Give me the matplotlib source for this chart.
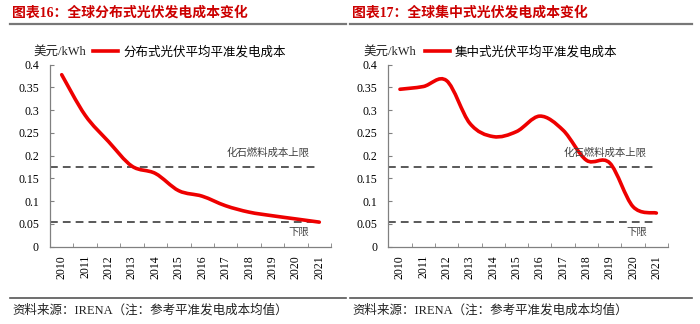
import matplotlib
matplotlib.use("Agg")
import matplotlib.pyplot as plt
from matplotlib.path import Path
from matplotlib.patches import PathPatch
from matplotlib.lines import Line2D
import numpy as np

plt.rcParams['font.family'] = ['Liberation Serif', 'Noto Sans CJK SC']

years = ['2010', '2011', '2012', '2013', '2014', '2015', '2016', '2017', '2018', '2019', '2020', '2021']
dist_cost = [0.378, 0.289, 0.231, 0.177, 0.161, 0.123, 0.111, 0.090, 0.076, 0.068, 0.061, 0.054]
util_cost = [0.346, 0.352, 0.365, 0.271, 0.242, 0.253, 0.287, 0.256, 0.190, 0.184, 0.088, 0.074]
fossil_upper = 0.175
fossil_lower = 0.055

titles = ['图表16：全球分布式光伏发电成本变化', '图表17：全球集中式光伏发电成本变化']
series_names = ['分布式光伏平均平准发电成本', '集中式光伏平均平准发电成本']
unit = '美元/kWh'
upper_label = '化石燃料成本上限'
lower_label = '下限'
source = '资料来源：IRENA（注：参考平准发电成本均值）'
yticks = [0, 0.05, 0.1, 0.15, 0.2, 0.25, 0.3, 0.35, 0.4]
ytick_labels = ['0', '0.05', '0.1', '0.15', '0.2', '0.25', '0.3', '0.35', '0.4']

W, H = 700, 324
fig = plt.figure(figsize=(7, 3.24), dpi=100)

def fx(px):
    return px / W

def fy(py):
    return 1 - py / H

def smooth_path(xs, ys):
    pts = np.column_stack([xs, ys]).astype(float)
    n = len(pts)
    verts = [pts[0]]
    codes = [Path.MOVETO]
    for i in range(n - 1):
        p0 = pts[i - 1] if i > 0 else pts[i]
        p1 = pts[i]
        p2 = pts[i + 1]
        p3 = pts[i + 2] if i + 2 < n else pts[i + 1]
        c1 = p1 + (p2 - p0) / 6.0
        c2 = p2 - (p3 - p1) / 6.0
        verts += [c1, c2, p2]
        codes += [Path.CURVE4] * 3
    return Path(verts, codes)

panels = [
    dict(data=dist_cost, ax_left=50, ax_right=331, x0=10, x1=346, leg_unit=33, leg_x=93),
    dict(data=util_cost, ax_left=388.3, ax_right=668, x0=350, x1=692, leg_unit=363, leg_x=425),
]

ax_bottom_px, ax_top_px = 246.7, 64.7

for k, p in enumerate(panels):
    ax = fig.add_axes([fx(p['ax_left']), fy(ax_bottom_px),
                       fx(p['ax_right'] - p['ax_left']), (ax_bottom_px - ax_top_px) / H])
    x = np.arange(len(years))
    path = smooth_path(x, p['data'])
    ax.add_patch(PathPatch(path, fill=False, ec='#ee0000', lw=2.6, capstyle='round', zorder=3))
    # legend proxy
    ax.plot([], [], color='#ee0000', lw=2.6, label=series_names[k])
    ax.plot([x[0] - 0.5, x[-1]], [fossil_upper, fossil_upper], color='#595959', lw=1.4,
            dashes=(4, 2.6), zorder=2)
    ax.plot([x[0] - 0.5, x[-1]], [fossil_lower, fossil_lower], color='#595959', lw=1.4,
            dashes=(4, 2.6), zorder=2)
    ax.set_xlim(-0.5, len(years) - 0.5)
    ax.set_ylim(0, 0.4)
    ax.set_yticks(yticks)
    ax.set_yticklabels(ytick_labels, fontsize=8.5)
    ax.set_xticks(x)
    ax.set_xticklabels(years, rotation=90, fontsize=8.5)
    ax.set_xticks(np.arange(-0.5, len(years) + 0.5, 1), minor=True)
    ax.tick_params(axis='x', which='major', length=0, pad=6)
    ax.tick_params(axis='x', which='minor', direction='in', length=3, color='#808080')
    ax.tick_params(axis='y', direction='in', length=3, color='#808080', pad=8)
    for s in ['top', 'right']:
        ax.spines[s].set_visible(False)
    for s in ['left', 'bottom']:
        ax.spines[s].set_color('#808080')
        ax.spines[s].set_linewidth(0.9)
    ax.patch.set_alpha(0)

    ax.legend(loc='center left', bbox_to_anchor=(fx(p['leg_x']) - 0.0, fy(52)),
              bbox_transform=fig.transFigure, frameon=False, fontsize=9,
              handlelength=2.0, handletextpad=0.4, borderpad=0, borderaxespad=0)
    fig.text(fx(p['leg_unit']), fy(52), unit, fontsize=9, ha='left', va='center', color='#222222')

    # annotations
    right_px = p['ax_left'] + (p['ax_right'] - p['ax_left']) * (11.5 - 0.5) / 12 + 0
    fig.text(fx(p['ax_left'] + (p['ax_right'] - p['ax_left']) * 11 / 12 - 12 + 14), fy(153),
             upper_label, fontsize=7.5, ha='right', va='center', color='#404040')
    fig.text(fx(p['ax_left'] + (p['ax_right'] - p['ax_left']) * 11 / 12 - 12 + 14), fy(232),
             lower_label, fontsize=7.5, ha='right', va='center', color='#404040')

    # title and rules
    fig.text(fx(p['x0'] + 2), fy(13), titles[k], fontsize=10, fontweight='bold',
             color='#cc0000', ha='left', va='center')
    fig.add_artist(Line2D([fx(p['x0']), fx(p['x1'])], [fy(23.5), fy(23.5)],
                          color='#777777', lw=1.6, transform=fig.transFigure))
    fig.add_artist(Line2D([fx(p['x0']), fx(p['x1'])], [fy(297.5), fy(297.5)],
                          color='#555555', lw=1.2, transform=fig.transFigure))
    fig.text(fx(p['x0'] + 2), fy(310), source, fontsize=9, ha='left', va='center',
             color='#222222')

fig.savefig('out.png', dpi=100)
